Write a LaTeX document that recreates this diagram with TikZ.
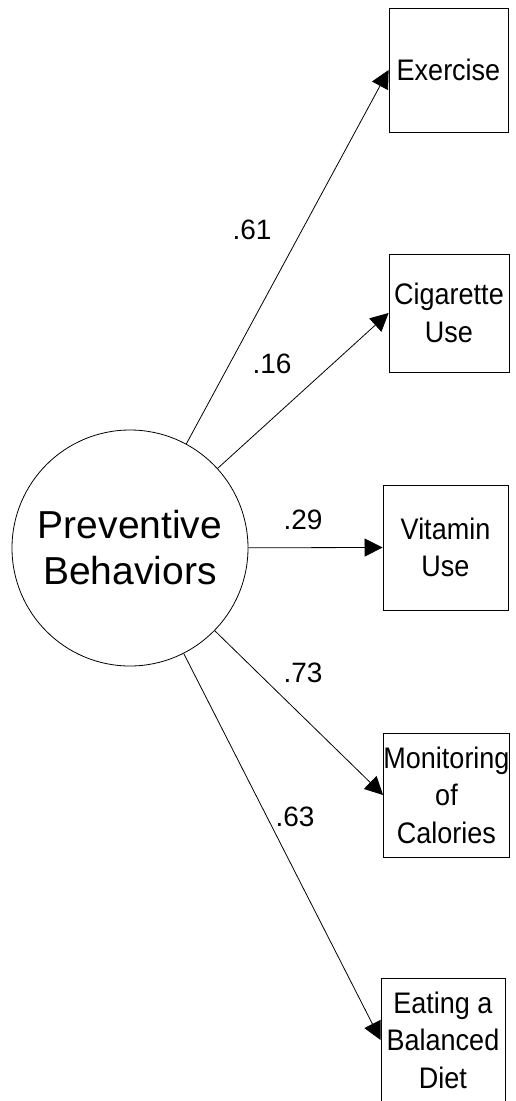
\documentclass[tikz,border=0pt]{standalone}
\usepackage{fontspec}
\setmainfont{Liberation Sans}
\usetikzlibrary{arrows.meta}
\begin{document}
\begin{tikzpicture}[x=1pt,y=-1pt,
  every node/.style={inner sep=0pt},
  indicator/.style={draw, line width=0.8pt, align=center, yscale=1.1,
    font=\fontsize{27}{34}\selectfont},
  latent/.style={draw, circle, line width=0.8pt, minimum size=236pt, align=center,
    font=\fontsize{39}{46}\selectfont},
  loading/.style={font=\fontsize{28}{30}\selectfont},
  path/.style={line width=0.8pt, -{Triangle[length=18pt,width=18pt]}}]
  \useasboundingbox (0,0) rectangle (516,1101);
  \fill[white] (0,0) rectangle (516,1101);

  % latent factor
  \node[latent] (pb) at (130,548) {Preventive\\Behaviors};

  % observed indicators
  \node[indicator, minimum width=119pt, minimum height=112.7pt] (ex)  at (448.5,70)   {Exercise};
  \node[indicator, minimum width=120pt, minimum height=107.3pt] (cig) at (449,313)    {Cigarette\\Use};
  \node[indicator, minimum width=125pt, minimum height=113.6pt] (vit) at (445.5,547.5) {Vitamin\\Use};
  \node[indicator, minimum width=121pt, minimum height=112.7pt] (mon) at (446.5,795)  {Monitoring\\of\\Calories};
  \node[indicator, minimum width=124pt, minimum height=112.7pt] (eat) at (443,1040)   {Eating a\\Balanced\\Diet};

  % factor loadings
  \draw[path] (pb) -- (ex.west);
  \draw[path] (pb) -- (cig.west);
  \draw[path] (pb) -- (vit.west);
  \draw[path] (pb) -- (mon.west);
  \draw[path] (pb) -- (eat.west);

  \node[loading] (l1) at (252,230) {.61};
  \node[loading] (l2) at (272,364) {.16};
  \node[loading] (l3) at (303,520) {.29};
  \node[loading] (l4) at (303,673) {.73};
  \node[loading] (l5) at (295,817) {.63};
\end{tikzpicture}
\end{document}
